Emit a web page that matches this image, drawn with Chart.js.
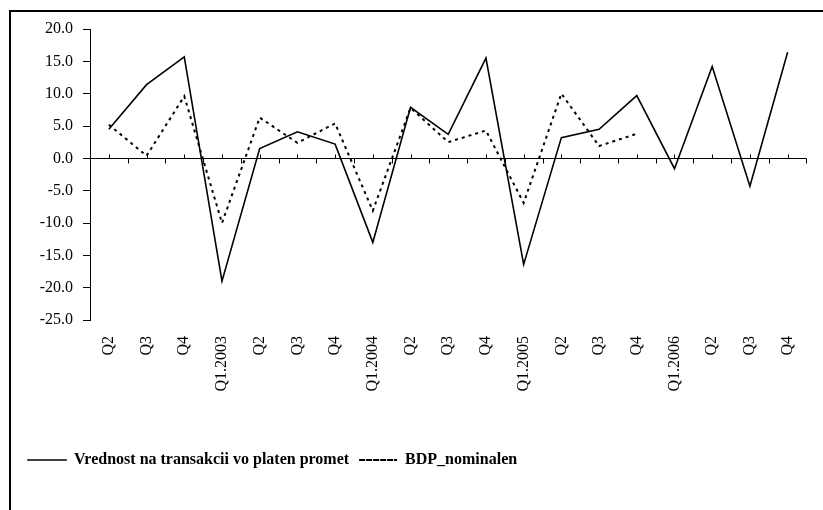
<!DOCTYPE html>
<html>
<head>
<meta charset="utf-8">
<script src="https://cdn.jsdelivr.net/npm/chart.js@4.4.1/dist/chart.umd.min.js"></script>
<style>
  html, body { margin: 0; padding: 0; background: #fff; overflow: hidden; }
  #wrap { position: relative; width: 823px; height: 510px; }
  #frame { position: absolute; left: 9px; top: 10px; width: 900px; height: 600px;
           border-left: 2px solid #000; border-top: 2px solid #000; }
  canvas { position: absolute; left: 0; top: 0; }
</style>
</head>
<body>
<div id="wrap">
  <div id="frame"></div>
  <canvas id="chart" width="823" height="510"></canvas>
</div>
<script>
var categories = ['Q2', 'Q3', 'Q4', 'Q1.2003', 'Q2', 'Q3', 'Q4', 'Q1.2004', 'Q2', 'Q3', 'Q4',
                  'Q1.2005', 'Q2', 'Q3', 'Q4', 'Q1.2006', 'Q2', 'Q3', 'Q4'];
var transakcii = [4.5, 11.4, 15.7, -19.0, 1.5, 4.1, 2.2, -13.0, 7.9, 3.7, 15.5,
                  -16.4, 3.2, 4.5, 9.7, -1.6, 14.2, -4.3, 16.4];
var bdp = [5.2, 0.4, 9.6, -10.0, 6.3, 2.4, 5.4, -8.1, 7.8, 2.5, 4.3,
           -6.9, 10.0, 1.9, 3.8, null, null, null, null];
var seriesNames = ['Vrednost na transakcii vo platen promet', 'BDP_nominalen'];
var yMin = -25, yMax = 20, yStep = 5;

// zero line with small ticks (center ticks up, boundary ticks down)
var zeroAxis = {
    id: 'zeroAxis',
    beforeDatasetsDraw: function(chart) {
        var ctx = chart.ctx, x = chart.scales.x, y = chart.scales.y;
        var y0 = Math.round(y.getPixelForValue(0)) + 0.5;
        var area = chart.chartArea;
        var half = (x.getPixelForValue(1) - x.getPixelForValue(0)) / 2;
        ctx.save();
        ctx.strokeStyle = '#000';
        ctx.lineWidth = 1;
        ctx.beginPath();
        ctx.moveTo(area.left, y0);
        ctx.lineTo(area.right, y0);
        for (var i = 0; i < categories.length; i++) {
            var c = Math.round(x.getPixelForValue(i)) + 0.5;
            ctx.moveTo(c, y0);
            ctx.lineTo(c, y0 - 4);
            var b = Math.round(x.getPixelForValue(i) + half) + 0.5;
            ctx.moveTo(b, y0);
            ctx.lineTo(b, y0 + 5);
        }
        ctx.stroke();
        ctx.restore();
    }
};

var ctx = document.getElementById('chart').getContext('2d');
var chart = new Chart(ctx, {
    type: 'line',
    data: {
        labels: categories,
        datasets: [
            {
                label: seriesNames[0],
                data: transakcii,
                borderColor: '#000',
                backgroundColor: 'transparent',
                borderWidth: 1.6,
                pointRadius: 0,
                tension: 0
            },
            {
                label: seriesNames[1],
                data: bdp,
                borderColor: '#000',
                backgroundColor: 'transparent',
                borderWidth: 2,
                borderDash: [3, 4],
                pointRadius: 0,
                tension: 0,
                spanGaps: false
            }
        ]
    },
    options: {
        responsive: false,
        animation: false,
        layout: { padding: { left: 18, top: 29, right: 7, bottom: 32 } },
        plugins: {
            tooltip: { enabled: false },
            legend: {
                position: 'bottom',
                align: 'start',
                labels: {
                    boxWidth: 38,
                    boxHeight: 0.01,
                    padding: 10,
                    color: '#000',
                    font: { family: 'Liberation Serif', size: 16, weight: 'bold' }
                }
            }
        },
        scales: {
            x: {
                offset: true,
                grid: { display: false, drawTicks: false },
                border: { display: false },
                ticks: {
                    autoSkip: false,
                    minRotation: 90,
                    maxRotation: 90,
                    padding: 16,
                    color: '#000',
                    font: { family: 'Liberation Serif', size: 16 }
                },
                afterFit: function(scale) { scale.height = 122; }
            },
            y: {
                min: yMin,
                max: yMax,
                grid: { drawOnChartArea: false, drawTicks: true, tickLength: 7, color: '#000' },
                border: { display: true, color: '#000', width: 1 },
                ticks: {
                    stepSize: yStep,
                    padding: 10,
                    color: '#000',
                    font: { family: 'Liberation Serif', size: 16 },
                    callback: function(v) { return Number(v).toFixed(1); }
                },
                afterFit: function(scale) { scale.width = 72; }
            }
        }
    },
    plugins: [zeroAxis]
});
</script>
</body>
</html>
